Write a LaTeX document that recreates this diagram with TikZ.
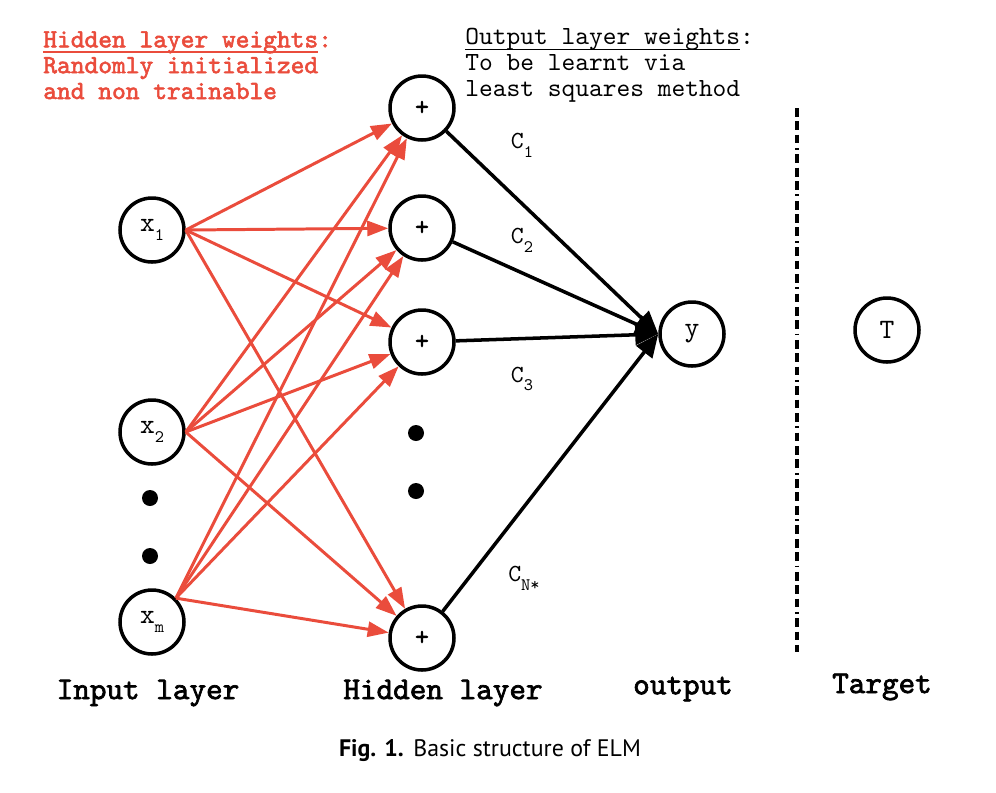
\documentclass[tikz,border=0pt]{standalone}
\usepackage{fontspec}
\newfontfamily\mono{lmmono10-regular.otf}
\newfontfamily\monob{lmmono10-regular.otf}[FakeBold=2.2]
\newfontfamily\capfont{PT Sans}
\usetikzlibrary{arrows.meta}
\definecolor{elmred}{RGB}{234,76,60}
\newcommand{\ulin}[1]{\leavevmode\setbox0\hbox{#1}\rlap{\vrule height -2.2pt depth 3.1pt width \wd0}\box0}
\newcommand{\lowsub}[1]{\raisebox{-5pt}{\fontsize{10}{10}\selectfont #1}}
\tikzset{
  neur/.style={circle, draw=black, line width=2pt, minimum size=1.28cm, inner sep=0pt,
               font=\mono\fontsize{16}{16}\selectfont},
  hid/.style={neur, font=\monob\fontsize{15}{15}\selectfont},
  dotn/.style={circle, fill=black, minimum size=0.32cm, inner sep=0pt},
  redarr/.style={-{Triangle[length=4.2mm, width=3mm]}, elmred, line width=1.7pt},
  outarr/.style={-{Triangle[length=4.6mm, width=4mm]}, black, line width=2pt},
  layl/.style={font=\monob\fontsize{18}{18}\selectfont},
  wlab/.style={font=\mono\fontsize{14}{14}\selectfont},
  note/.style={anchor=north west, align=left, inner sep=0pt,
               font=\mono\fontsize{14.9}{14.7}\selectfont},
}

\begin{document}
\begin{tikzpicture}[x=0.02cm, y=-0.02cm]
    \useasboundingbox (0,0) rectangle (996,792);
    % input layer
    \node[neur] (x1) at (152,230) {x\lowsub{1}};
    \node[neur] (x2) at (152,432) {x\lowsub{2}};
    \node[dotn] (di1) at (150,498) {};
    \node[dotn] (di2) at (150,556) {};
    \node[neur] (xm) at (152,622) {x\lowsub{m}};
    % hidden layer
    \node[hid] (h1) at (422,108) {+};
    \node[hid] (h2) at (422,228) {+};
    \node[hid] (h3) at (422,342) {+};
    \node[dotn] (dh1) at (416,433) {};
    \node[dotn] (dh2) at (416,491) {};
    \node[hid] (hn) at (422,638) {+};
    % output and target
    \node[neur] (y) at (692,334) {y};
    \node[neur] (t) at (887,330) {T};
    \coordinate (sept) at (797,108);
    \coordinate (sepb) at (797,652);
    \draw[line width=1.8pt, dash pattern=on 5pt off 2.6pt on 5pt off 2.6pt on 5pt off 2.6pt on 1pt off 2.6pt] (sept) -- (sepb);

    % random hidden weights
    \draw[redarr] (x1.east) -- (h1);
    \draw[redarr] (x1.east) -- (h2);
    \draw[redarr] (x1.east) -- (h3);
    \draw[redarr] (x1.east) -- (hn);
    \draw[redarr] (x2.east) -- (h1);
    \draw[redarr] (x2.east) -- (h2);
    \draw[redarr] (x2.east) -- (h3);
    \draw[redarr] (x2.east) -- (hn);
    \draw[redarr] (xm.45) -- (h1);
    \draw[redarr] (xm.45) -- (h2);
    \draw[redarr] (xm.45) -- (h3);
    \draw[redarr] (xm.45) -- (hn);

    % output weights
    \draw[outarr] (h1) -- (y.west);
    \draw[outarr] (h2) -- (y.west);
    \draw[outarr] (h3) -- (y.west);
    \draw[outarr] (hn) -- (y.west);
    \node[wlab] (c1) at (522,145) {C\lowsub{1}};
    \node[wlab] (c2) at (522,240) {C\lowsub{2}};
    \node[wlab] (c3) at (522,379) {C\lowsub{3}};
    \node[wlab] (cn) at (524,578) {C\lowsub{N*}};

    % notes
    \node[note, text=elmred, font=\monob\fontsize{14.9}{14.7}\selectfont] (hnote) at (43,31)
      {\ulin{Hidden layer weights}:\\Randomly initialized\\and non trainable};
    \node[note] (onote) at (465,28)
      {\ulin{Output layer weights}:\\To be learnt via\\least squares method};

    % layer names
    \node[layl] (lin) at (148,693) {Input layer};
    \node[layl] (lhid) at (443,693) {Hidden layer};
    \node[layl] (lout) at (683,689) {output};
    \node[layl] (ltar) at (882,687) {Target};
    \node[font=\capfont\fontsize{13.6}{13.6}\selectfont] (cap) at (490,751)
      {\textbf{Fig. 1.}\hspace{0.4em}Basic structure of ELM};
  \end{tikzpicture}
\end{document}
